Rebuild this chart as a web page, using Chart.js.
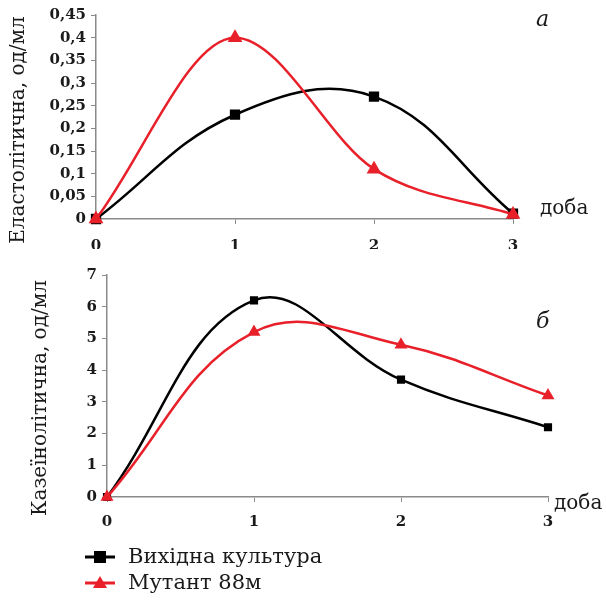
<!DOCTYPE html>
<html><head><meta charset="utf-8">
<script src="https://cdn.jsdelivr.net/npm/chart.js@4.4.0/dist/chart.umd.min.js"></script>
<style>
html,body{margin:0;padding:0;background:#fff;width:606px;height:601px;overflow:hidden}
#c1{position:absolute;left:0;top:0}
#c2{position:absolute;left:0;top:260px}
</style></head><body>
<canvas id="c1" width="606" height="260"></canvas>
<canvas id="c2" width="606" height="341"></canvas>
<script>
const days = [0, 1, 2, 3];
const xTickLabels = ['0', '1', '2', '3'];
const seriesNames = ['Вихідна культура', 'Мутант 88м'];
const elastoOriginal = [0, 0.23, 0.27, 0.012];
const elastoMutant = [0, 0.40, 0.11, 0.01];
const caseinOriginal = [0, 6.2, 3.7, 2.2];
const caseinMutant = [0, 5.2, 4.8, 3.2];
const elastoTicks = ['0', '0,05', '0,1', '0,15', '0,2', '0,25', '0,3', '0,35', '0,4', '0,45'];
const caseinTicks = ['0', '1', '2', '3', '4', '5', '6', '7'];

const BLACK = '#000000';
const RED = '#e8202a';
const AXIS = '#8a8a8a';
const TICKFONT = {family: '"DejaVu Serif", serif', size: 15, weight: 'bold'};
const SERIF = '"DejaVu Serif", "Liberation Serif", serif';

function pts(vals) { return days.map((d, i) => ({x: d, y: vals[i]})); }

const textPlugin = {
  id: 'texts',
  afterDraw(chart, args, opts) {
    const ctx = chart.ctx;
    ctx.save();
    ctx.fillStyle = '#1a1a1a';
    (opts.items || []).forEach(t => {
      ctx.save();
      ctx.font = t.font;
      ctx.textAlign = t.align || 'left';
      ctx.textBaseline = 'middle';
      ctx.translate(t.x, t.y);
      if (t.rot) ctx.rotate(t.rot);
      ctx.fillText(t.text, 0, 0);
      ctx.restore();
    });
    if (opts.legend) {
      const L = opts.legend;
      chart.data.datasets.forEach((ds, i) => {
        const y = L.y + i * L.gap;
        ctx.strokeStyle = ds.borderColor;
        ctx.lineWidth = 3;
        ctx.beginPath();
        ctx.moveTo(L.x, y);
        ctx.lineTo(L.x + L.len, y);
        ctx.stroke();
        ctx.fillStyle = ds.borderColor;
        const cx = L.x + L.len / 2;
        if (ds.pointStyle === 'rect') {
          ctx.fillRect(cx - 6, y - 6, 12, 12);
        } else {
          ctx.beginPath();
          ctx.moveTo(cx, y - 7);
          ctx.lineTo(cx + 7, y + 5);
          ctx.lineTo(cx - 7, y + 5);
          ctx.closePath();
          ctx.fill();
        }
        ctx.fillStyle = '#1a1a1a';
        ctx.font = '21px ' + SERIF;
        ctx.textAlign = 'left';
        ctx.textBaseline = 'middle';
        ctx.fillText(ds.label, L.x + L.len + 13, y + 1);
      });
    }
    ctx.restore();
  }
};

function makeChart(id, origVals, mutVals, yMax, yStep, yLabels, yWidth, pad, texts, legend, msize, xPad, mutMode) {
  return new Chart(document.getElementById(id), {
    type: 'line',
    data: {
      datasets: [
        {label: seriesNames[0], data: pts(origVals), borderColor: BLACK, backgroundColor: BLACK,
         pointStyle: 'rect', pointRadius: msize.sq, borderWidth: 2.5, tension: 0.4, order: 1, clip: false},
        {label: seriesNames[1], data: pts(mutVals), borderColor: RED, backgroundColor: RED,
         pointStyle: 'triangle', pointRadius: msize.tri, borderWidth: 2.5, tension: 0.4, order: 0, clip: false,
         cubicInterpolationMode: mutMode}
      ]
    },
    options: {
      responsive: false, animation: false, devicePixelRatio: 1,
      layout: {padding: pad},
      plugins: {legend: {display: false}, tooltip: {enabled: false}, texts: {items: texts, legend: legend}},
      scales: {
        x: {
          type: 'linear', min: 0, max: 3,
          ticks: {stepSize: 1, color: '#1a1a1a', font: TICKFONT, padding: xPad,
                  callback: (v, i) => xTickLabels[i]},
          grid: {drawOnChartArea: false, drawTicks: true, tickLength: 5, color: AXIS},
          border: {color: AXIS, width: 1.5},
          afterFit: s => { s.height = 30; }
        },
        y: {
          min: 0, max: yMax,
          ticks: {stepSize: yStep, color: '#1a1a1a', font: TICKFONT, padding: 5,
                  callback: (v, i) => yLabels[i]},
          grid: {drawOnChartArea: false, drawTicks: true, tickLength: 5, color: AXIS},
          border: {color: AXIS, width: 1.5},
          afterFit: s => { s.width = yWidth; }
        }
      }
    },
    plugins: [textPlugin]
  });
}

makeChart('c1', elastoOriginal, elastoMutant, 0.45, 0.05, elastoTicks, 96,
  {left: 0, right: 93, top: 15, bottom: 11},
  [
    {text: 'Еластолітична, од/мл', x: 19, y: 130, rot: -Math.PI / 2, align: 'center', font: '20px ' + SERIF},
    {text: 'доба', x: 540, y: 209, font: '20px ' + SERIF},
    {text: 'а', x: 536, y: 20, font: 'italic 22px ' + SERIF}
  ], null, {sq: 5.5, tri: 6}, 13, 'monotone');

makeChart('c2', caseinOriginal, caseinMutant, 7, 1, caseinTicks, 107,
  {left: 0, right: 58, top: 15, bottom: 74},
  [
    {text: 'Казеїнолітична, од/мл', x: 41, y: 138, rot: -Math.PI / 2, align: 'center', font: '20px ' + SERIF},
    {text: 'доба', x: 554, y: 244, font: '20px ' + SERIF},
    {text: 'б', x: 536, y: 62, font: 'italic 22px ' + SERIF}
  ], {x: 85, y: 297, gap: 26, len: 30}, {sq: 4, tri: 5}, 11, 'default');
</script>
</body></html>
